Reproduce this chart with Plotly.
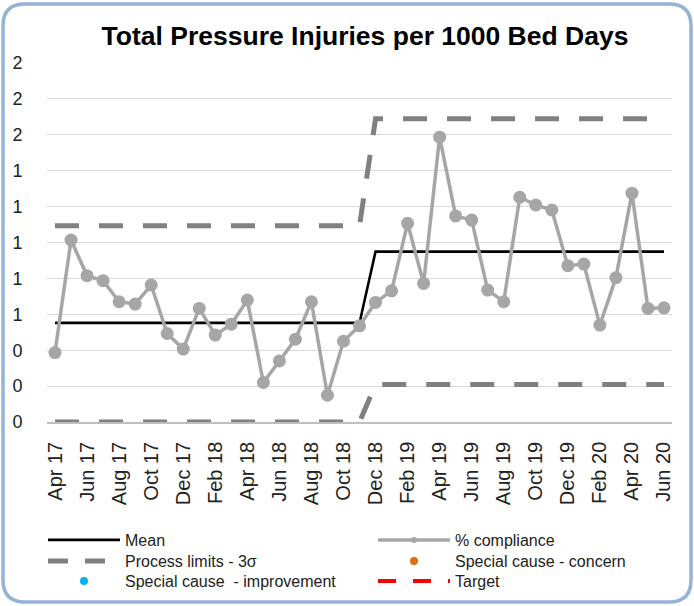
import plotly.graph_objects as go

# ---- data ----
months = ["Apr 17", "May 17", "Jun 17", "Jul 17", "Aug 17", "Sep 17", "Oct 17", "Nov 17", "Dec 17",
          "Jan 18", "Feb 18", "Mar 18", "Apr 18", "May 18", "Jun 18", "Jul 18", "Aug 18", "Sep 18",
          "Oct 18", "Nov 18", "Dec 18", "Jan 19", "Feb 19", "Mar 19", "Apr 19", "May 19", "Jun 19",
          "Jul 19", "Aug 19", "Sep 19", "Oct 19", "Nov 19", "Dec 19", "Jan 20", "Feb 20", "Mar 20",
          "Apr 20", "May 20", "Jun 20"]
compliance = [0.387, 1.014, 0.815, 0.787, 0.670, 0.657, 0.763, 0.493, 0.406, 0.633, 0.484, 0.545,
              0.679, 0.220, 0.340, 0.461, 0.670, 0.149, 0.450, 0.536, 0.666, 0.731, 1.107, 0.772,
              1.587, 1.148, 1.125, 0.735, 0.670, 1.252, 1.209, 1.181, 0.871, 0.880, 0.540, 0.804,
              1.275, 0.633, 0.636]
mean = [0.552] * 20 + [0.949] * 19
ucl = [1.094] * 20 + [1.689] * 19
lcl = [0.0] * 20 + [0.209] * 19
y_tickvals = [0, 0.2, 0.4, 0.6, 0.8, 1.0, 1.2, 1.4, 1.6, 1.8, 2.0]
y_ticktext = ["0", "0", "0", "1", "1", "1", "1", "1", "2", "2", "2"]
x_tickvals = months[::2]

# ---- layout geometry (pixels) ----
W, H = 694, 606
ML, MR, MT, MB = 47, 22, 63, 184
PW, PH = W - ML - MR, H - MT - MB


def px_x(px):
    return (px - ML) / PW


def px_y(py):
    return (H - MB - py) / PH


FONT = "Liberation Sans, Arial, sans-serif"
LIMIT_COLOR = "#808080"
DATA_COLOR = "#A6A6A6"
LIMIT_DASH = "24px,20px"

fig = go.Figure()

# plotted series
fig.add_trace(go.Scatter(x=months, y=ucl, mode="lines", name="Process limits - 3σ",
                         line=dict(color=LIMIT_COLOR, width=5, dash=LIMIT_DASH),
                         showlegend=False))
fig.add_trace(go.Scatter(x=months, y=lcl, mode="lines", name="Process limits - 3σ",
                         line=dict(color=LIMIT_COLOR, width=5, dash=LIMIT_DASH),
                         showlegend=False, cliponaxis=False))
fig.add_trace(go.Scatter(x=months, y=mean, mode="lines", name="Mean",
                         line=dict(color="black", width=2.6), showlegend=False))
fig.add_trace(go.Scatter(x=months, y=compliance, mode="lines+markers", name="% compliance",
                         line=dict(color=DATA_COLOR, width=3.5),
                         marker=dict(color=DATA_COLOR, size=13), showlegend=False))

# legend entries: one small legend per entry (column 1, then column 2)
fig.add_trace(go.Scatter(x=[None], y=[None], mode="lines", name="Mean",
                         line=dict(color="black", width=2.6), legend="legend"))
fig.add_trace(go.Scatter(x=[None], y=[None], mode="lines", name="Process limits - 3σ",
                         line=dict(color=LIMIT_COLOR, width=5, dash="20px,17px"), legend="legend2"))
fig.add_trace(go.Scatter(x=[None], y=[None], mode="markers", name="Special cause  - improvement",
                         marker=dict(color="#00B0F0", size=8), legend="legend3"))
fig.add_trace(go.Scatter(x=[None], y=[None], mode="lines+markers", name="% compliance",
                         line=dict(color=DATA_COLOR, width=3.5),
                         marker=dict(color=DATA_COLOR, size=6), legend="legend4"))
fig.add_trace(go.Scatter(x=[None], y=[None], mode="markers", name="Special cause - concern",
                         marker=dict(color="#E46C0A", size=8), legend="legend5"))
fig.add_trace(go.Scatter(x=[None], y=[None], mode="lines", name="Target",
                         line=dict(color="red", width=4, dash="18px,17px"), legend="legend6"))

# rounded outer border
x0, x1, y0, y1, r = 3, 691, 4, 602, 22
path = (f"M {px_x(x0 + r)},{px_y(y0)} L {px_x(x1 - r)},{px_y(y0)} "
        f"Q {px_x(x1)},{px_y(y0)} {px_x(x1)},{px_y(y0 + r)} "
        f"L {px_x(x1)},{px_y(y1 - r)} Q {px_x(x1)},{px_y(y1)} {px_x(x1 - r)},{px_y(y1)} "
        f"L {px_x(x0 + r)},{px_y(y1)} Q {px_x(x0)},{px_y(y1)} {px_x(x0)},{px_y(y1 - r)} "
        f"L {px_x(x0)},{px_y(y0 + r)} Q {px_x(x0)},{px_y(y0)} {px_x(x0 + r)},{px_y(y0)} Z")

legend_common = dict(orientation="v", xanchor="left", yanchor="top",
                     xref="container", yref="container",
                     font=dict(family=FONT, size=16, color="#222222"),
                     itemwidth=72, tracegroupgap=0, bgcolor="rgba(0,0,0,0)",
                     traceorder="normal")
col_x = [43, 373]
row_top = [523, 544, 564]

fig.update_layout(
    width=W, height=H,
    margin=dict(l=ML, r=MR, t=MT, b=MB, autoexpand=False),
    paper_bgcolor="white", plot_bgcolor="white",
    font=dict(family=FONT, color="#222222"),
    title=dict(text="Total Pressure Injuries per 1000 Bed Days",
               font=dict(family=FONT, size=26.5, color="black", weight="bold"),
               xref="container", yref="container", x=365 / W, xanchor="center",
               y=1 - 36 / H, yanchor="middle"),
    xaxis=dict(type="category", range=[-0.5, 38.5], tickmode="array", tickvals=x_tickvals,
               tickangle=-90, tickfont=dict(size=20, color="#222222"),
               showgrid=False, showline=True, linecolor="#BFBFBF", linewidth=1.5,
               ticks="outside", ticklen=10, tickcolor="rgba(0,0,0,0)", zeroline=False,
               automargin=False),
    yaxis=dict(range=[0, 2], tickmode="array", tickvals=y_tickvals, ticktext=y_ticktext,
               tickfont=dict(size=18, color="#222222"), showgrid=True, gridcolor="#D9D9D9",
               gridwidth=1.2, zeroline=False, ticks="outside", ticklen=20,
               tickcolor="rgba(0,0,0,0)", automargin=False),
    showlegend=True,
    legend=dict(x=col_x[0] / W, y=1 - row_top[0] / H, **legend_common),
    legend2=dict(x=col_x[0] / W, y=1 - row_top[1] / H, **legend_common),
    legend3=dict(x=col_x[0] / W, y=1 - row_top[2] / H, **legend_common),
    legend4=dict(x=col_x[1] / W, y=1 - row_top[0] / H, **legend_common),
    legend5=dict(x=col_x[1] / W, y=1 - row_top[1] / H, **legend_common),
    legend6=dict(x=col_x[1] / W, y=1 - row_top[2] / H, **legend_common),
    shapes=[dict(type="path", xref="paper", yref="paper", path=path,
                 line=dict(color="#95B3D7", width=3.5), layer="above")],
)

fig.write_html("out.html", config={"displayModeBar": False},
               post_script="document.body.style.margin='0';document.body.style.overflow='hidden';")
